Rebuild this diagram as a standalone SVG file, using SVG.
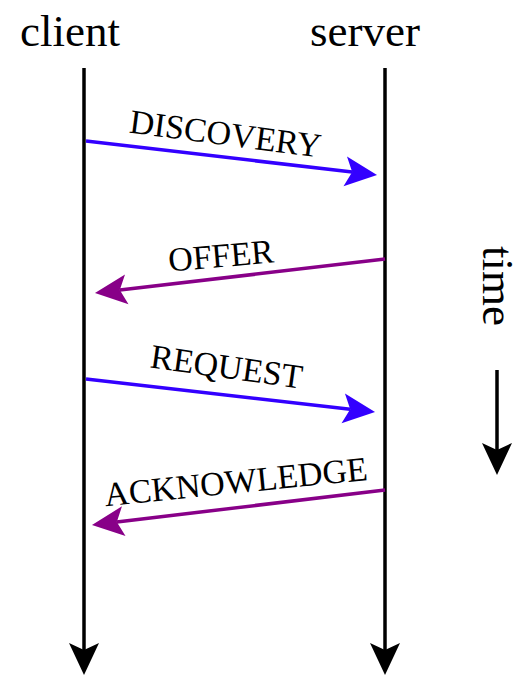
<svg xmlns="http://www.w3.org/2000/svg" width="532" height="698" viewBox="0 0 532 698">
<style>
.big{font-family:"Liberation Serif","Times New Roman",serif;font-size:45px;fill:#000}
.lbl{font-family:"Liberation Serif","Times New Roman",serif;font-size:34px;fill:#000}
.life{stroke:#000;stroke-width:3.5;fill:none}
.blue{stroke:#3300ff;stroke-width:3.5;fill:none}
.purple{stroke:#880088;stroke-width:3.5;fill:none}
</style>
<defs>
<marker id="ah-black" markerUnits="userSpaceOnUse" viewBox="-8 -16 34 32" markerWidth="34" markerHeight="32" refX="0" refY="0" orient="auto">
<path d="M-7,-15 L25,0 L-7,15 L0,0 Z" fill="#000"/>
</marker>
<marker id="ah-blue" markerUnits="userSpaceOnUse" viewBox="-8 -16 34 32" markerWidth="34" markerHeight="32" refX="0" refY="0" orient="auto">
<path d="M-7,-15 L25,0 L-7,15 L0,0 Z" fill="#3300ff"/>
</marker>
<marker id="ah-purple" markerUnits="userSpaceOnUse" viewBox="-8 -16 34 32" markerWidth="34" markerHeight="32" refX="0" refY="0" orient="auto">
<path d="M-7,-15 L25,0 L-7,15 L0,0 Z" fill="#880088"/>
</marker>
</defs>
<rect width="532" height="698" fill="#fff"/>
<g id="client">
<text class="big" x="70" y="46" text-anchor="middle">client</text>
</g>
<g id="server">
<text class="big" x="365" y="46" text-anchor="middle">server</text>
</g>
<g id="time">
<text class="big" transform="translate(483,286) rotate(90)" text-anchor="middle" font-size="46">time</text>
</g>
<g id="connectors">
<line class="life" x1="84" y1="68" x2="84" y2="650" marker-end="url(#ah-black)"/>
<line class="life" x1="385" y1="68" x2="385" y2="650" marker-end="url(#ah-black)"/>
<line class="life" x1="497" y1="370" x2="497" y2="450" marker-end="url(#ah-black)"/>
<line class="blue" x1="86" y1="141" x2="352.2" y2="172.1" marker-end="url(#ah-blue)"/>
<line class="purple" x1="385" y1="259" x2="119.8" y2="290.1" marker-end="url(#ah-purple)"/>
<line class="blue" x1="86" y1="379" x2="350.2" y2="409.2" marker-end="url(#ah-blue)"/>
<line class="purple" x1="385" y1="490" x2="116.8" y2="522" marker-end="url(#ah-purple)"/>
<text class="lbl" transform="translate(224,145) rotate(7.5)" text-anchor="middle">DISCOVERY</text>
<text class="lbl" transform="translate(222,267) rotate(-5)" text-anchor="middle">OFFER</text>
<text class="lbl" transform="translate(225,378) rotate(8)" text-anchor="middle">REQUEST</text>
<text class="lbl" transform="translate(237,493) rotate(-5.7)" text-anchor="middle">ACKNOWLEDGE</text>
</g>
</svg>
